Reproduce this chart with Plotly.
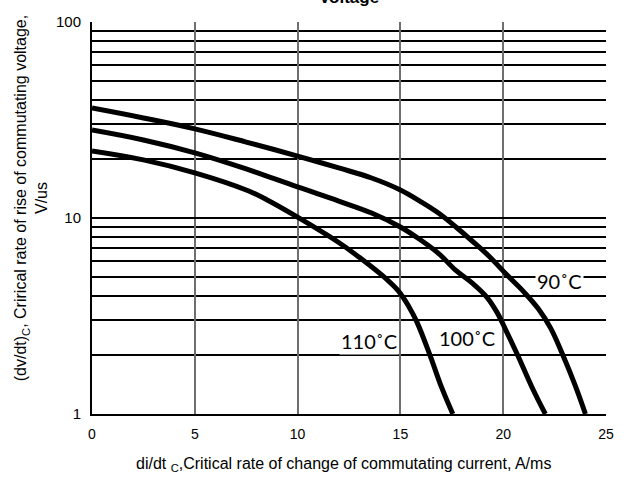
import math
import plotly.graph_objects as go

# Critical rate of rise of commutating voltage vs. di/dt, per junction temperature
x_90 = [0, 2.5, 5, 7.5, 10, 12, 13.6, 15, 16, 16.85, 17.7, 18.45, 19.3, 20.2, 21.0, 21.7, 22.3, 22.9, 23.5, 24.0]
y_90 = [36.4, 32.4, 28.5, 24.4, 20.7, 18.0, 16.0, 13.9, 12.1, 10.6, 9.0, 7.7, 6.4, 5.1, 4.2, 3.45, 2.75, 2.0, 1.4, 1.0]

x_100 = [0, 2.5, 5, 7.5, 10, 12, 13.6, 15, 16, 16.85, 17.7, 18.5, 19.2, 19.7, 20.15, 20.7, 21.4, 22.05]
y_100 = [28.1, 25.0, 21.5, 17.8, 14.4, 12.2, 10.6, 9.0, 7.7, 6.6, 5.4, 4.65, 3.95, 3.3, 2.65, 2.0, 1.37, 1.0]

x_110 = [0, 2.5, 5, 7.5, 8.5, 10, 12, 13, 14.3, 14.9, 15.4, 15.8, 16.45, 17.0, 17.55]
y_110 = [22.0, 19.8, 17.0, 13.9, 12.4, 10.1, 7.5, 6.3, 4.9, 4.25, 3.55, 2.95, 1.98, 1.37, 1.0]

x_ticks = [0, 5, 10, 15, 20, 25]
y_ticks = [1, 10, 100]
y_minor = [2, 3, 4, 5, 6, 7, 8, 9, 20, 30, 40, 50, 60, 70, 80, 90]

fig = go.Figure()
for xs, ys in [(x_90, y_90), (x_100, y_100), (x_110, y_110)]:
    fig.add_trace(go.Scatter(
        x=xs, y=ys, mode="lines",
        line=dict(color="black", width=5, shape="spline", smoothing=1.1),
        showlegend=False, hoverinfo="skip",
    ))

# Temperature labels; annotation y on a log axis is given as log10(value)
label_font = dict(family="Lato, Open Sans, sans-serif", size=20, color="black")
for text, lx, ly in [("90˚C", 22.76, 4.77), ("100˚C", 18.26, 2.44), ("110˚C", 13.46, 2.36)]:
    fig.add_annotation(x=lx, y=math.log10(ly), xref="x", yref="y", text=text,
                       showarrow=False, font=label_font, bgcolor="white", borderpad=1)

axis_font = dict(family="Liberation Sans, Arial, sans-serif", size=16, color="black")

fig.add_annotation(
    x=-0.117, y=0.55, xref="paper", yref="paper", xanchor="center", yanchor="middle",
    text="(dv/dt)<sub>C</sub>, Crirical rate of rise of commutating voltage,<br>V/us",
    textangle=-90, showarrow=False, font=axis_font,
)
fig.add_annotation(
    x=0.49, y=-0.1, xref="paper", yref="paper", xanchor="center", yanchor="top",
    text="di/dt <sub>C</sub>,Critical rate of change of commutating current, A/ms",
    showarrow=False, font=axis_font,
)
fig.add_annotation(
    x=0.5, y=1.0, xref="paper", yref="paper", xanchor="center", yanchor="bottom",
    yshift=13, text="<b>Voltage</b>", showarrow=False,
    font=dict(family="Liberation Sans, Arial, sans-serif", size=17, color="black"),
)

fig.update_layout(
    width=626, height=498,
    margin=dict(l=92, r=18, t=22, b=84),
    paper_bgcolor="white", plot_bgcolor="white",
    font=axis_font,
    xaxis=dict(
        range=[0, 25], tickvals=x_ticks, ticks="", showgrid=True,
        gridcolor="#6e6e6e", gridwidth=1.5, zeroline=False,
        showline=True, linecolor="black", linewidth=2, mirror=False,
        tickfont=dict(size=14), ticklabelstandoff=6,
    ),
    yaxis=dict(
        type="log", range=[0, 2], tickvals=y_ticks, ticks="", showgrid=True,
        gridcolor="black", gridwidth=2, zeroline=False,
        showline=True, linecolor="black", linewidth=2,
        tickfont=dict(size=15), ticklabelstandoff=6,
        minor=dict(tickvals=y_minor, showgrid=True, gridcolor="black", gridwidth=2, ticks=""),
    ),
)

fig.write_html("out.html")
